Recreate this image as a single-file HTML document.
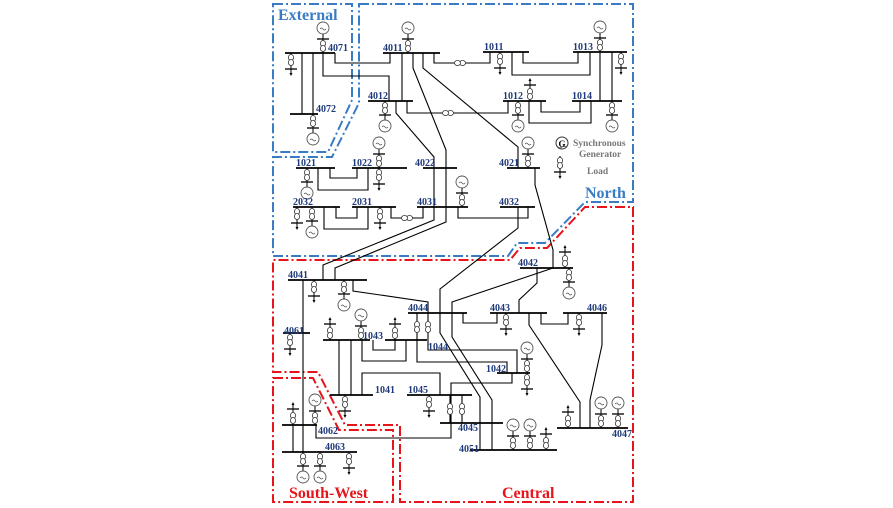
<!DOCTYPE html>
<html><head><meta charset="utf-8"><style>
html,body{margin:0;padding:0;background:#fff;}
svg{display:block;}
.b{stroke:#000;stroke-width:1.8;fill:none;}
.l{stroke:#000;stroke-width:1.1;fill:none;}
.lb{font-family:"Liberation Serif",serif;font-weight:bold;font-size:10px;fill:#1f3a7a;}
.t{stroke:#333;stroke-width:0.8;fill:#fff;}
</style></head><body>
<svg width="893" height="508" viewBox="0 0 893 508" xmlns="http://www.w3.org/2000/svg">
<defs>
<g id="tr"><ellipse class="t" cx="0" cy="-2.5" rx="2.6" ry="3"/><ellipse class="t" cx="0" cy="2.5" rx="2.6" ry="3"/></g>
<g id="gu"><line x1="0" y1="0" x2="0" y2="-19" stroke="#000" stroke-width="1"/><use href="#tr" y="-7"/><line x1="-6" y1="-14" x2="6" y2="-14" stroke="#000" stroke-width="1.3"/><circle cx="0" cy="-25" r="6" fill="#fff" stroke="#555" stroke-width="0.9"/><path d="M-3,-24 q1.5,-2 3,0 t3,0" fill="none" stroke="#555" stroke-width="0.7"/></g>
<g id="gd"><line x1="0" y1="0" x2="0" y2="19" stroke="#000" stroke-width="1"/><use href="#tr" y="7"/><line x1="-6" y1="14" x2="6" y2="14" stroke="#000" stroke-width="1.3"/><circle cx="0" cy="25" r="6" fill="#fff" stroke="#555" stroke-width="0.9"/><path d="M-3,26 q1.5,-2 3,0 t3,0" fill="none" stroke="#555" stroke-width="0.7"/></g>
<g id="ld"><line x1="0" y1="0" x2="0" y2="21" stroke="#000" stroke-width="1"/><use href="#tr" y="7"/><line x1="-6" y1="16" x2="6" y2="16" stroke="#000" stroke-width="1.3"/><path d="M-1.5,20 L1.5,20 L0,23 Z" fill="#000"/></g>
<g id="lu"><line x1="0" y1="0" x2="0" y2="-21" stroke="#000" stroke-width="1"/><use href="#tr" y="-7"/><line x1="-6" y1="-16" x2="6" y2="-16" stroke="#000" stroke-width="1.3"/><path d="M-1.5,-20 L1.5,-20 L0,-23 Z" fill="#000"/></g>
</defs>

<!-- region boundaries -->
<g fill="none" stroke="#3a7cc4" stroke-width="2" stroke-dasharray="10,3,2,3">
<path d="M273,4 H352 V100 L328,152 H273 Z"/>
<path d="M359,4 H633 V202 H585 L545,243 H517 L508,256 H273 V157 H332 L359,103 Z"/>
</g>
<g fill="none" stroke="#e8141c" stroke-width="2" stroke-dasharray="10,3,2,3">
<path d="M633,207 V502 H400 V425 H345 L318,372 H273 V260 H510 L520,248 H547 L585,207 Z"/>
<path d="M273,378 H313 L339,430 H393 V502 H273 Z"/>
</g>
<g font-family="Liberation Serif,serif" font-weight="bold" font-size="16">
<text x="278" y="20" fill="#3a7cc4">External</text>
<text x="585" y="198" fill="#3a7cc4">North</text>
<text x="289" y="498" fill="#e8141c">South-West</text>
<text x="502" y="498" fill="#e8141c">Central</text>
</g>

<!-- connector lines -->
<g class="l">
<path d="M302,53 V114 M313,53 V114"/>
<path d="M335,53 V63 H390 V53"/>
<path d="M323,53 V76 H389 V101"/>
<path d="M402,53 V101"/>
<path d="M434,53 V63 H490 V52"/>
<path d="M523,52 V63 H578 V52"/>
<path d="M512,52 V75 H590 V52"/>
<path d="M600,52 V101 M612,52 V101"/>
<path d="M541,101 V112 H580 V101"/>
<path d="M529,101 V123 H591 V101"/>
<path d="M407,101 V113 H508 V101"/>
<path d="M396,101 V113 L434,157 V220 L323,265 V280"/>
<path d="M413,53 V68 L446,150 V222 L335,268 V280"/>
<path d="M423,53 V68 L518,147 V168"/>
<path d="M535,168 V185 L553,250 V268"/>
<path d="M330,168 V178 H357 V168"/>
<path d="M318,168 V190 H368 V168"/>
<path d="M336,207 V218 H357 V207"/>
<path d="M324,207 V229 H368 V207"/>
<path d="M391,207 V218 H423 V207"/>
<path d="M458,207 V218 H528 V207"/>
<path d="M518,207 V228 L440,289 V333 L480,397 V450"/>
<path d="M537,268 V283 L519,300 V313"/>
<path d="M553,268 L452,302 V337 L492,400 V450"/>
<path d="M303,280 V452"/>
<path d="M353,280 V291 L428,302 V313"/>
<path d="M463,313 V323 H497 V313"/>
<path d="M541,313 V324 H568 V313"/>
<path d="M529,313 V325 L580,402 V428"/>
<path d="M602,313 V345 L590,400 V428"/>
<path d="M373,340 V350 H395 V340"/>
<path d="M362,340 V361 H406 V340"/>
<path d="M417,313 V362 H507 V373"/>
<path d="M428,313 V350 H517 V373"/>
<path d="M339,340 V395 M351,340 V395"/>
<path d="M362,395 V373 H440 V395"/>
<path d="M512,373 V383 H451 V438 H316 V425"/>
<path d="M450,395 V423 M462,395 V423"/>
<path d="M293,425 V452"/>
</g>
<!-- transformers on lines -->
<use href="#tr" transform="translate(460,63) rotate(90)"/>
<use href="#tr" transform="translate(448,113) rotate(90)"/>
<use href="#tr" transform="translate(407,218) rotate(90)"/>
<use href="#tr" x="417" y="327"/><use href="#tr" x="428" y="327"/>
<use href="#tr" x="450" y="409"/><use href="#tr" x="462" y="409"/>

<!-- buses -->
<g class="b">
<path d="M285,53H335 M290,114H318 M383,53H440 M483,52H529 M573,52H627 M572,101H622 M503,101H546 M368,101H413"/>
<path d="M507,168H540 M423,168H457 M417,207H468 M500,207H535 M296,168H335 M352,168H407 M293,207H340 M352,207H396"/>
<path d="M288,280H367 M520,268H573 M408,313H467 M490,313H547 M563,313H607 M557,428H628 M283,333H310"/>
<path d="M323,340H370 M385,340H427 M497,373H530 M330,395H373 M407,395H472 M440,423H503 M470,450H557 M282,425H317 M282,452H357"/>
</g>

<!-- generators -->
<use href="#gu" x="323" y="53"/><use href="#gu" x="408" y="53"/><use href="#gu" x="600" y="52"/>
<use href="#gu" x="379" y="168"/><use href="#gu" x="528" y="168"/><use href="#gu" x="462" y="207"/>
<use href="#gu" x="601" y="428"/><use href="#gu" x="618" y="428"/><use href="#gu" x="513" y="450"/><use href="#gu" x="530" y="450"/>
<use href="#gu" x="315" y="425"/><use href="#gu" x="361" y="340"/><use href="#gu" x="527" y="373"/>
<use href="#gd" x="313" y="114"/><use href="#gd" x="385" y="101"/><use href="#gd" x="518" y="101"/><use href="#gd" x="612" y="101"/>
<use href="#gd" x="307" y="168"/><use href="#gd" x="312" y="207"/><use href="#gd" x="344" y="280"/><use href="#gd" x="569" y="268"/>
<use href="#gd" x="303" y="452"/><use href="#gd" x="320" y="452"/>
<!-- loads -->
<use href="#ld" x="291" y="53"/><use href="#ld" x="500" y="52"/><use href="#ld" x="621" y="52"/><use href="#ld" x="379" y="168"/>
<use href="#ld" x="297" y="207"/><use href="#ld" x="380" y="207"/><use href="#ld" x="314" y="280"/><use href="#ld" x="290" y="333"/>
<use href="#ld" x="506" y="313"/><use href="#ld" x="579" y="313"/><use href="#ld" x="527" y="373"/><use href="#ld" x="345" y="395"/>
<use href="#ld" x="429" y="395"/><use href="#ld" x="349" y="452"/>
<use href="#lu" x="530" y="101"/><use href="#lu" x="330" y="340"/><use href="#lu" x="395" y="340"/><use href="#lu" x="568" y="428"/>
<use href="#lu" x="546" y="450"/><use href="#lu" x="293" y="425"/><use href="#lu" x="565" y="268"/>

<!-- legend -->
<circle cx="562" cy="143" r="6" fill="#fff" stroke="#333" stroke-width="1"/>
<text x="562" y="147" text-anchor="middle" font-family="Liberation Serif,serif" font-weight="bold" font-size="9">G</text>
<path d="M558,147 q2,2 4,0 t4,0" fill="none" stroke="#333" stroke-width="0.6"/>
<use href="#ld" x="560" y="156"/>
<g font-family="Liberation Serif,serif" font-weight="bold" font-size="9.5" fill="#777">
<text x="573" y="146">Synchronous</text>
<text x="579" y="157">Generator</text>
<text x="587" y="174">Load</text>
</g>

<!-- bus labels -->
<g class="lb">
<text x="328" y="51">4071</text><text x="316" y="112">4072</text><text x="383" y="51">4011</text>
<text x="484" y="50">1011</text><text x="573" y="50">1013</text><text x="368" y="99">4012</text>
<text x="503" y="99">1012</text><text x="572" y="99">1014</text><text x="296" y="166">1021</text>
<text x="352" y="166">1022</text><text x="415" y="166">4022</text><text x="499" y="166">4021</text>
<text x="293" y="205">2032</text><text x="352" y="205">2031</text><text x="417" y="205">4031</text>
<text x="499" y="205">4032</text><text x="518" y="266">4042</text><text x="288" y="278">4041</text>
<text x="408" y="311">4044</text><text x="490" y="311">4043</text><text x="587" y="311">4046</text>
<text x="284" y="334">4061</text><text x="363" y="339">1043</text><text x="428" y="350">1044</text>
<text x="486" y="372">1042</text><text x="375" y="393">1041</text><text x="408" y="393">1045</text>
<text x="458" y="431">4045</text><text x="459" y="452">4051</text><text x="612" y="437">4047</text>
<text x="318" y="434">4062</text><text x="325" y="450">4063</text>
</g>
</svg>
</body></html>
